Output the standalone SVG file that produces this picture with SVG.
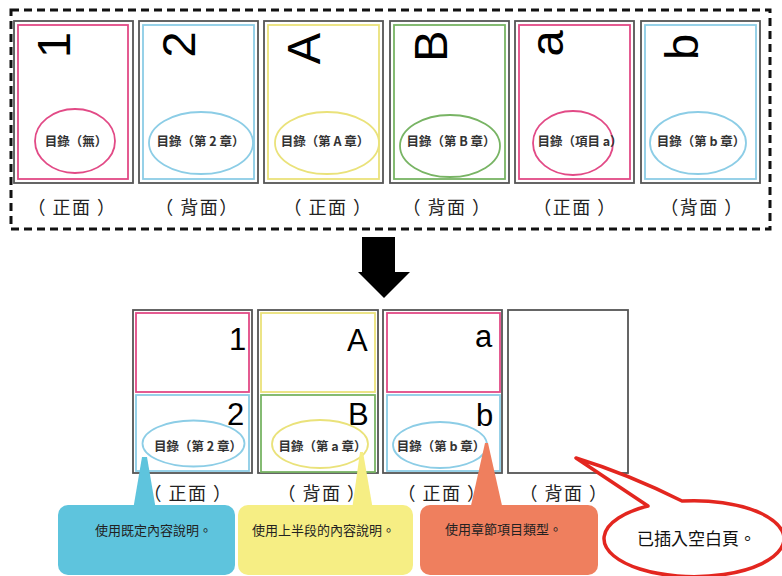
<svg xmlns="http://www.w3.org/2000/svg" width="782" height="576" viewBox="0 0 782 576">
<style>
.card{fill:#fff;stroke:#555;stroke-width:1.8}
.pk{fill:none;stroke:#E24A86;stroke-width:1.8}
.bl{fill:none;stroke:#8CCDE6;stroke-width:1.8}
.yl{fill:none;stroke:#EAE27A;stroke-width:1.8}
.gr{fill:none;stroke:#78B464;stroke-width:1.8}
.big{font-family:"Liberation Sans",Arial,sans-serif;font-size:47px;fill:#000}
.mid{font-family:"Liberation Sans",Arial,sans-serif;font-size:31px;fill:#000}
.toc{font-family:"Noto Sans CJK TC","Noto Sans CJK SC",sans-serif;font-size:12.5px;font-weight:bold;fill:#333;text-anchor:middle}
.lbl{font-family:"Noto Sans CJK TC","Noto Sans CJK SC",sans-serif;font-size:18px;fill:#222;text-anchor:middle;letter-spacing:1.5px}
.co{font-family:"Noto Sans CJK TC","Noto Sans CJK SC",sans-serif;font-size:13px;fill:#222}
</style>
<rect width="782" height="576" fill="#fff"/>
<g id="source-frame">
<rect x="11" y="10" width="759" height="219" fill="none" stroke="#111" stroke-width="3" stroke-dasharray="8 5"/>
</g>
<g id="src-1">
<rect class="card" x="14" y="21" width="119" height="162"/>
<rect class="pk" x="18" y="25" width="110" height="154"/>
<text class="big" transform="translate(70,45) rotate(-90)" text-anchor="middle">1</text>
<ellipse class="pk" cx="75" cy="141" rx="40" ry="32"/>
<text class="toc" x="76" y="146">目錄（無）</text>
<text class="lbl" x="72" y="214">（ 正面 ）</text>
</g>
<g id="src-2">
<rect class="card" x="139" y="21" width="119" height="162"/>
<rect class="bl" x="143" y="25" width="111" height="154"/>
<text class="big" transform="translate(195,44.5) rotate(-90)" text-anchor="middle">2</text>
<ellipse class="bl" cx="201" cy="143" rx="52" ry="31"/>
<text class="toc" x="200.5" y="146">目錄（第 2 章）</text>
<text class="lbl" x="197" y="214">（ 背面）</text>
</g>
<g id="src-3">
<rect class="card" x="264" y="21" width="119" height="162"/>
<rect class="yl" x="268" y="25" width="111" height="154"/>
<text class="big" transform="translate(320,48.5) rotate(-90)" text-anchor="middle">A</text>
<ellipse class="yl" cx="327" cy="143" rx="52" ry="31"/>
<text class="toc" x="325" y="146">目錄（第 A 章）</text>
<text class="lbl" x="328" y="214">（ 正面 ）</text>
</g>
<g id="src-4">
<rect class="card" x="390" y="21" width="119" height="162"/>
<rect class="gr" x="394" y="25" width="111" height="154"/>
<text class="big" transform="translate(447,46) rotate(-90)" text-anchor="middle">B</text>
<ellipse class="gr" cx="450" cy="146" rx="50" ry="31"/>
<text class="toc" x="451" y="146">目錄（第 B 章）</text>
<text class="lbl" x="447" y="214">（ 背面 ）</text>
</g>
<g id="src-5">
<rect class="card" x="515" y="21" width="119" height="162"/>
<rect class="pk" x="519" y="25" width="111" height="154"/>
<text class="big" transform="translate(563,43.5) rotate(-90)" text-anchor="middle">a</text>
<ellipse class="pk" cx="573" cy="143" rx="40" ry="32"/>
<text class="toc" x="580" y="146">目錄（項目 a）</text>
<text class="lbl" x="575" y="214">（正面 ）</text>
</g>
<g id="src-6">
<rect class="card" x="641" y="21" width="119" height="162"/>
<rect class="bl" x="645" y="25" width="111" height="154"/>
<text class="big" transform="translate(698,47) rotate(-90)" text-anchor="middle">b</text>
<ellipse class="bl" cx="698" cy="143" rx="48" ry="31"/>
<text class="toc" x="701" y="146">目錄（第 b 章）</text>
<text class="lbl" x="702" y="214">（背面 ）</text>
</g>
<g id="connectors">
<polygon points="362,237 395,237 395,272 410,272 384,298 358,272 362,272" fill="#000"/>
</g>
<g id="out-1">
<rect class="card" x="133" y="310" width="119" height="163"/>
<rect class="pk" x="136" y="313" width="113" height="79"/>
<rect class="bl" x="136" y="395" width="113" height="76"/>
<text class="mid" x="229" y="350">1</text>
<text class="mid" x="227" y="425">2</text>
<ellipse class="bl" cx="193.5" cy="443.5" rx="51" ry="23"/>
<text class="toc" x="198" y="451">目錄（第 2 章）</text>
<text class="lbl" x="188" y="500">（ 正面 ）</text>
</g>
<g id="out-2">
<rect class="card" x="258" y="310" width="120" height="163"/>
<rect class="yl" x="261" y="313" width="114" height="79"/>
<rect class="gr" x="261" y="395" width="114" height="77"/>
<text class="mid" x="347" y="351">A</text>
<text class="mid" x="348" y="425">B</text>
<ellipse class="yl" cx="320" cy="444" rx="48" ry="24"/>
<text class="toc" x="322.5" y="451">目錄（第 a 章）</text>
<text class="lbl" x="322" y="500">（ 背面 ）</text>
</g>
<g id="out-3">
<rect class="card" x="383" y="310" width="119" height="163"/>
<rect class="pk" x="387" y="313" width="113" height="79"/>
<rect class="bl" x="387" y="395" width="113" height="76"/>
<text class="mid" x="475" y="347">a</text>
<text class="mid" x="476" y="426">b</text>
<ellipse class="bl" cx="440" cy="445" rx="47" ry="23"/>
<text class="toc" x="441" y="451">目錄（第 b 章）</text>
<text class="lbl" x="442" y="500">（ 正面 ）</text>
</g>
<g id="out-4">
<rect class="card" x="508" y="310" width="120" height="163"/>
<text class="lbl" x="564" y="500">（ 背面 ）</text>
</g>
<g id="callout-blue">
<rect x="58" y="505" width="177" height="70" rx="10" fill="#5EC4DD"/>
<polygon points="133,510 142,457 147,457 156,510" fill="#5EC4DD"/>
<text class="co" x="95" y="535">使用既定內容說明。</text>
</g>
<g id="callout-yellow">
<rect x="238" y="505" width="175" height="70" rx="10" fill="#F6EE84"/>
<polygon points="352,510 360,452 363,452 373,510" fill="#F6EE84"/>
<text class="co" x="252" y="535">使用上半段的內容說明。</text>
</g>
<g id="callout-orange">
<rect x="420" y="505" width="178" height="70" rx="10" fill="#EF7F5E"/>
<polygon points="470,510 485,443 488,443 503,510" fill="#EF7F5E"/>
<text class="co" x="445" y="534">使用章節項目類型。</text>
</g>
<g id="callout-red">
<path d="M648,506 Q612,482 576,458 Q628,474 682,501 A90 38 0 1 1 648,506 Z" fill="#fff" stroke="#E3261F" stroke-width="3.5" stroke-linejoin="round"/>
<text x="637" y="545" font-family="Noto Sans CJK TC,Noto Sans CJK SC,sans-serif" font-size="17" fill="#111">已插入空白頁。</text>
</g>
</svg>
